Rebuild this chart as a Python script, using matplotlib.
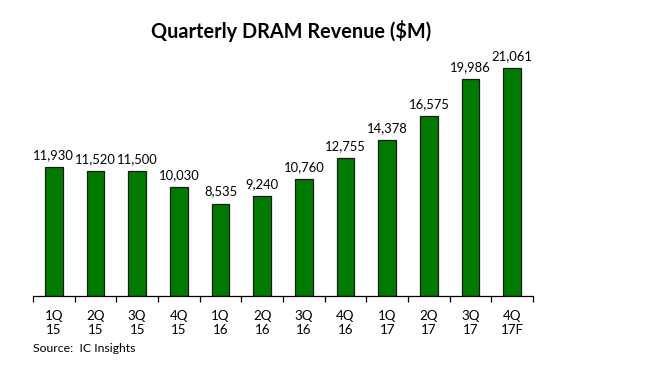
import matplotlib.pyplot as plt
import numpy as np

plt.rcParams['font.family'] = ['Lato', 'DejaVu Sans']

# Data
quarters = ["1Q\n15", "2Q\n15", "3Q\n15", "4Q\n15", "1Q\n16", "2Q\n16",
            "3Q\n16", "4Q\n16", "1Q\n17", "2Q\n17", "3Q\n17", "4Q\n17F"]
revenue = [11930, 11520, 11500, 10030, 8535, 9240,
           10760, 12755, 14378, 16575, 19986, 21061]

fig = plt.figure(figsize=(6.58, 3.75), dpi=100)
ax = fig.add_axes([33 / 658, 79 / 375, 500 / 658, 260 / 375])

x = np.arange(len(quarters))
bars = ax.bar(x, revenue, 0.42, color="#007a00", edgecolor="#1a1a1a", linewidth=0.9)

for xi, v in zip(x, revenue):
    ax.text(xi, v + 550, f"{v:,}", ha="center", va="bottom", fontsize=9.4)

ax.set_xlim(-0.5, len(quarters) - 0.5)
ax.set_ylim(0, 24000)
ax.set_xticks(x)
ax.set_xticklabels(quarters, fontsize=9.6, linespacing=1.2)
ax.tick_params(axis="x", which="major", length=0, pad=10)
ax.set_xticks(np.arange(len(quarters) + 1) - 0.5, minor=True)
ax.tick_params(axis="x", which="minor", length=4, width=0.9, direction="out")
ax.set_yticks([])
for side in ["left", "right", "top"]:
    ax.spines[side].set_visible(False)
ax.spines["bottom"].set_linewidth(0.9)

fig.text(291 / 658, 1 - 31 / 375, "Quarterly DRAM Revenue ($M)", ha="center", va="center",
         fontsize=14.3, fontweight="bold")
fig.text(33 / 658, 1 - 349 / 375, "Source:  IC Insights", ha="left", va="center", fontsize=8.8)

fig.savefig("out.png", dpi=100)
